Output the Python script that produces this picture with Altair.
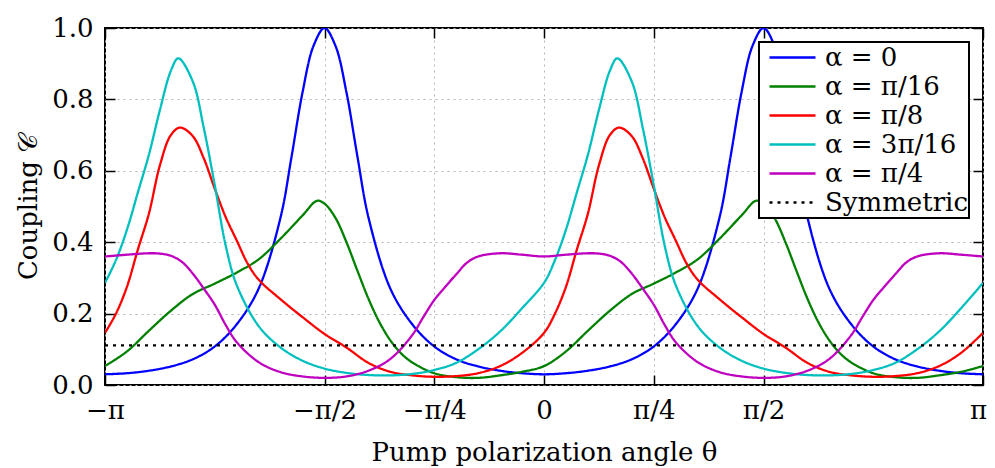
import altair as alt
import pandas as pd

FONT = "DejaVu Serif"

SERIES = ["α = 0", "α = π/16", "α = π/8", "α = 3π/16", "α = π/4", "Symmetric"]
COLORS = ["#0000ff", "#008000", "#ff0000", "#00bfbf", "#bf00bf", "#000000"]
DASHES = [[1, 0], [1, 0], [1, 0], [1, 0], [1, 0], [3, 5]]

# theta in units of pi
theta_a0 = [-1, -0.95, -0.9, -0.85, -0.8, -0.75, -0.7, -0.65, -0.6, -0.575, -0.55, -0.525, -0.5,
            -0.475, -0.45, -0.425, -0.4, -0.35, -0.3, -0.25, -0.2, -0.15, -0.1, -0.05, 0,
            0.05, 0.1, 0.15, 0.2, 0.25, 0.3, 0.35, 0.4, 0.425, 0.45, 0.475, 0.5,
            0.525, 0.55, 0.575, 0.6, 0.65, 0.7, 0.75, 0.8, 0.85, 0.9, 0.95, 1]
coupling_a0 = [0.030, 0.033, 0.040, 0.052, 0.072, 0.108, 0.17, 0.27, 0.47, 0.64, 0.82, 0.95, 1.0,
               0.95, 0.82, 0.64, 0.47, 0.27, 0.17, 0.108, 0.072, 0.052, 0.040, 0.033, 0.030,
               0.033, 0.040, 0.052, 0.072, 0.108, 0.17, 0.27, 0.47, 0.64, 0.82, 0.95, 1.0,
               0.95, 0.82, 0.64, 0.47, 0.27, 0.17, 0.108, 0.072, 0.052, 0.040, 0.033, 0.030]

theta_a1 = [-1, -0.95, -0.9, -0.85, -0.8, -0.75, -0.7, -0.65, -0.6, -0.55, -0.517, -0.5, -0.475,
            -0.45, -0.425, -0.4, -0.375, -0.35, -0.325, -0.3, -0.25, -0.2, -0.15, -0.1, -0.05, 0,
            0.05, 0.1, 0.15, 0.2, 0.25, 0.3, 0.35, 0.4, 0.45, 0.483, 0.5, 0.525,
            0.55, 0.575, 0.6, 0.625, 0.65, 0.675, 0.7, 0.75, 0.8, 0.85, 0.9, 0.95, 1]
coupling_a1 = [0.053, 0.094, 0.152, 0.208, 0.255, 0.284, 0.315, 0.352, 0.41, 0.475, 0.516, 0.508, 0.468,
               0.40, 0.32, 0.242, 0.176, 0.125, 0.088, 0.063, 0.033, 0.022, 0.020, 0.027, 0.037, 0.053,
               0.094, 0.152, 0.208, 0.255, 0.284, 0.315, 0.352, 0.41, 0.475, 0.516, 0.508, 0.468,
               0.40, 0.32, 0.242, 0.176, 0.125, 0.088, 0.063, 0.033, 0.022, 0.020, 0.027, 0.037, 0.053]

theta_a2 = [-1, -0.975, -0.95, -0.925, -0.9, -0.875, -0.85, -0.829, -0.8, -0.775, -0.75, -0.725,
            -0.7, -0.675, -0.65, -0.6, -0.55, -0.5, -0.45, -0.4, -0.35, -0.3, -0.25, -0.2, -0.15,
            -0.1, -0.05, 0,
            0.025, 0.05, 0.075, 0.1, 0.125, 0.15, 0.171, 0.2, 0.225, 0.25, 0.275,
            0.3, 0.325, 0.35, 0.4, 0.45, 0.5, 0.55, 0.6, 0.65, 0.7, 0.75, 0.8, 0.85,
            0.9, 0.95, 1]
coupling_a2 = [0.146, 0.20, 0.275, 0.38, 0.48, 0.615, 0.70, 0.721, 0.697, 0.635, 0.55, 0.47,
               0.405, 0.34, 0.295, 0.24, 0.19, 0.143, 0.105, 0.062, 0.037, 0.027, 0.023, 0.025, 0.033,
               0.053, 0.09, 0.146,
               0.20, 0.275, 0.38, 0.48, 0.615, 0.70, 0.721, 0.697, 0.635, 0.55, 0.47,
               0.405, 0.34, 0.295, 0.24, 0.19, 0.143, 0.105, 0.062, 0.037, 0.027, 0.023, 0.025, 0.033,
               0.053, 0.09, 0.146]

theta_a3 = [-1, -0.975, -0.95, -0.925, -0.9, -0.875, -0.85, -0.833, -0.8, -0.775, -0.75, -0.725,
            -0.7, -0.65, -0.6, -0.55, -0.5, -0.45, -0.4, -0.35, -0.3, -0.25, -0.2, -0.15, -0.1,
            -0.05, 0,
            0.025, 0.05, 0.075, 0.1, 0.125, 0.15, 0.167, 0.2, 0.225, 0.25, 0.275,
            0.3, 0.35, 0.4, 0.45, 0.5, 0.55, 0.6, 0.65, 0.7, 0.75, 0.8, 0.85, 0.9,
            0.95, 1]
coupling_a3 = [0.286, 0.35, 0.435, 0.54, 0.645, 0.77, 0.88, 0.915, 0.85, 0.72, 0.56, 0.39,
               0.28, 0.165, 0.105, 0.068, 0.046, 0.034, 0.028, 0.027, 0.031, 0.042, 0.062, 0.10, 0.15,
               0.215, 0.286,
               0.35, 0.435, 0.54, 0.645, 0.77, 0.88, 0.915, 0.85, 0.72, 0.56, 0.39,
               0.28, 0.165, 0.105, 0.068, 0.046, 0.034, 0.028, 0.027, 0.031, 0.042, 0.062, 0.10, 0.15,
               0.215, 0.286]

theta_a4 = [-1, -0.95, -0.9, -0.875, -0.85, -0.825, -0.8, -0.775, -0.75, -0.725, -0.7, -0.65, -0.6,
            -0.55, -0.5, -0.45, -0.4, -0.35, -0.3, -0.275, -0.25, -0.225, -0.2, -0.175, -0.15,
            -0.1, -0.05, 0,
            0.05, 0.1, 0.125, 0.15, 0.175, 0.2, 0.225, 0.25, 0.275, 0.3, 0.35, 0.4,
            0.45, 0.5, 0.55, 0.6, 0.65, 0.7, 0.725, 0.75, 0.775, 0.8, 0.825, 0.85,
            0.9, 0.95, 1]
coupling_a4 = [0.36, 0.365, 0.369, 0.368, 0.362, 0.345, 0.312, 0.27, 0.225, 0.168, 0.12, 0.064, 0.036,
               0.024, 0.020, 0.024, 0.040, 0.073, 0.14, 0.19, 0.238, 0.275, 0.31, 0.343, 0.36,
               0.369, 0.365, 0.36,
               0.365, 0.369, 0.368, 0.362, 0.345, 0.312, 0.27, 0.225, 0.168, 0.12, 0.064, 0.036,
               0.024, 0.020, 0.024, 0.040, 0.073, 0.14, 0.19, 0.238, 0.275, 0.31, 0.343, 0.36,
               0.369, 0.365, 0.36]

theta_sym = [-1, 1]
coupling_sym = [0.111, 0.111]

X_TICKS = [-1, -0.5, -0.25, 0, 0.25, 0.5, 1]
X_LABELS = ["−π", "−π/2", "−π/4", "0", "π/4", "π/2", "π"]
Y_TICKS = [0, 0.2, 0.4, 0.6, 0.8, 1.0]

rows = []
for name, ts, vs in zip(
    SERIES,
    [theta_a0, theta_a1, theta_a2, theta_a3, theta_a4, theta_sym],
    [coupling_a0, coupling_a1, coupling_a2, coupling_a3, coupling_a4, coupling_sym],
):
    for t, v in zip(ts, vs):
        rows.append({"series": name, "theta": t, "coupling": v})
df = pd.DataFrame(rows)

label_expr = " : ".join(f"datum.value == {v} ? '{l}'" for v, l in zip(X_TICKS, X_LABELS)) + " : ''"

xs = alt.Scale(domain=[-1, 1], nice=False, zero=False)
ys = alt.Scale(domain=[0, 1], nice=False, zero=False)

lines = alt.Chart(df).mark_line(strokeWidth=2.3, interpolate="catmull-rom", clip=True).encode(
    x=alt.X("theta:Q", scale=xs, axis=alt.Axis(
        values=X_TICKS, labelExpr=label_expr, title="Pump polarization angle θ",
        grid=True, gridDash=[2, 4], gridColor="#b5b5b5", gridWidth=1,
        ticks=False, domain=False, labelPadding=12, labelFont=FONT, labelFontSize=26,
        labelColor="black", titleFont=FONT, titleFontSize=26, titleFontWeight="normal",
        titleColor="black", titlePadding=16, labelFlush=False,
        labelOffset={"condition": {"test": "datum.value == 1", "value": -5}, "value": 0})),
    y=alt.Y("coupling:Q", scale=ys, axis=alt.Axis(
        values=Y_TICKS, format=".1f", title="Coupling 𝒞",
        grid=True, gridDash=[2, 4], gridColor="#b5b5b5", gridWidth=1,
        ticks=False, domain=False, labelPadding=12, labelFont=FONT, labelFontSize=26,
        labelColor="black", titleFont=FONT, titleFontSize=26, titleFontWeight="normal",
        titleColor="black", titlePadding=10, labelFlush=False)),
    color=alt.Color("series:N", scale=alt.Scale(domain=SERIES, range=COLORS), sort=SERIES,
                    legend=alt.Legend(
                        title=None, orient="none", legendX=654, legendY=14,
                        fillColor="white", strokeColor="black", padding=1,
                        symbolType="stroke", symbolSize=2116, symbolStrokeWidth=2.3,
                        symbolOffset=8, clipHeight=29,
                        labelFont=FONT, labelFontSize=26, labelColor="black",
                        labelOffset=8, rowPadding=0)),
    strokeDash=alt.StrokeDash("series:N", scale=alt.Scale(domain=SERIES, range=DASHES), sort=SERIES,
                              legend=None),
    detail="series:N",
)

tick_axis_x = dict(values=X_TICKS, labels=False, grid=False, domain=False, ticks=True,
                   tickSize=10, tickWidth=1.5, tickColor="black", offset=-10, title=None)
tick_axis_y = dict(values=Y_TICKS, labels=False, grid=False, domain=False, ticks=True,
                   tickSize=10, tickWidth=1.5, tickColor="black", offset=-10, title=None)

ticks_bl = alt.Chart(df).mark_line(opacity=0).encode(
    x=alt.X("theta:Q", scale=xs, axis=alt.Axis(orient="bottom", **tick_axis_x)),
    y=alt.Y("coupling:Q", scale=ys, axis=alt.Axis(orient="left", **tick_axis_y)),
    detail="series:N",
)
ticks_tr = alt.Chart(df).mark_line(opacity=0).encode(
    x=alt.X("theta:Q", scale=xs, axis=alt.Axis(orient="top", **tick_axis_x)),
    y=alt.Y("coupling:Q", scale=ys, axis=alt.Axis(orient="right", **tick_axis_y)),
    detail="series:N",
)

chart = alt.layer(lines, ticks_bl, ticks_tr).resolve_axis(
    x="independent", y="independent"
).properties(
    width=878, height=357,
    autosize=alt.AutoSizeParams(type="none"),
    padding={"left": 97, "top": 20, "right": 4, "bottom": 82},
).configure_view(stroke="black", strokeWidth=2).configure_legend(strokeWidth=2)

chart.save("out.html", embed_options={"renderer": "svg", "actions": False})
